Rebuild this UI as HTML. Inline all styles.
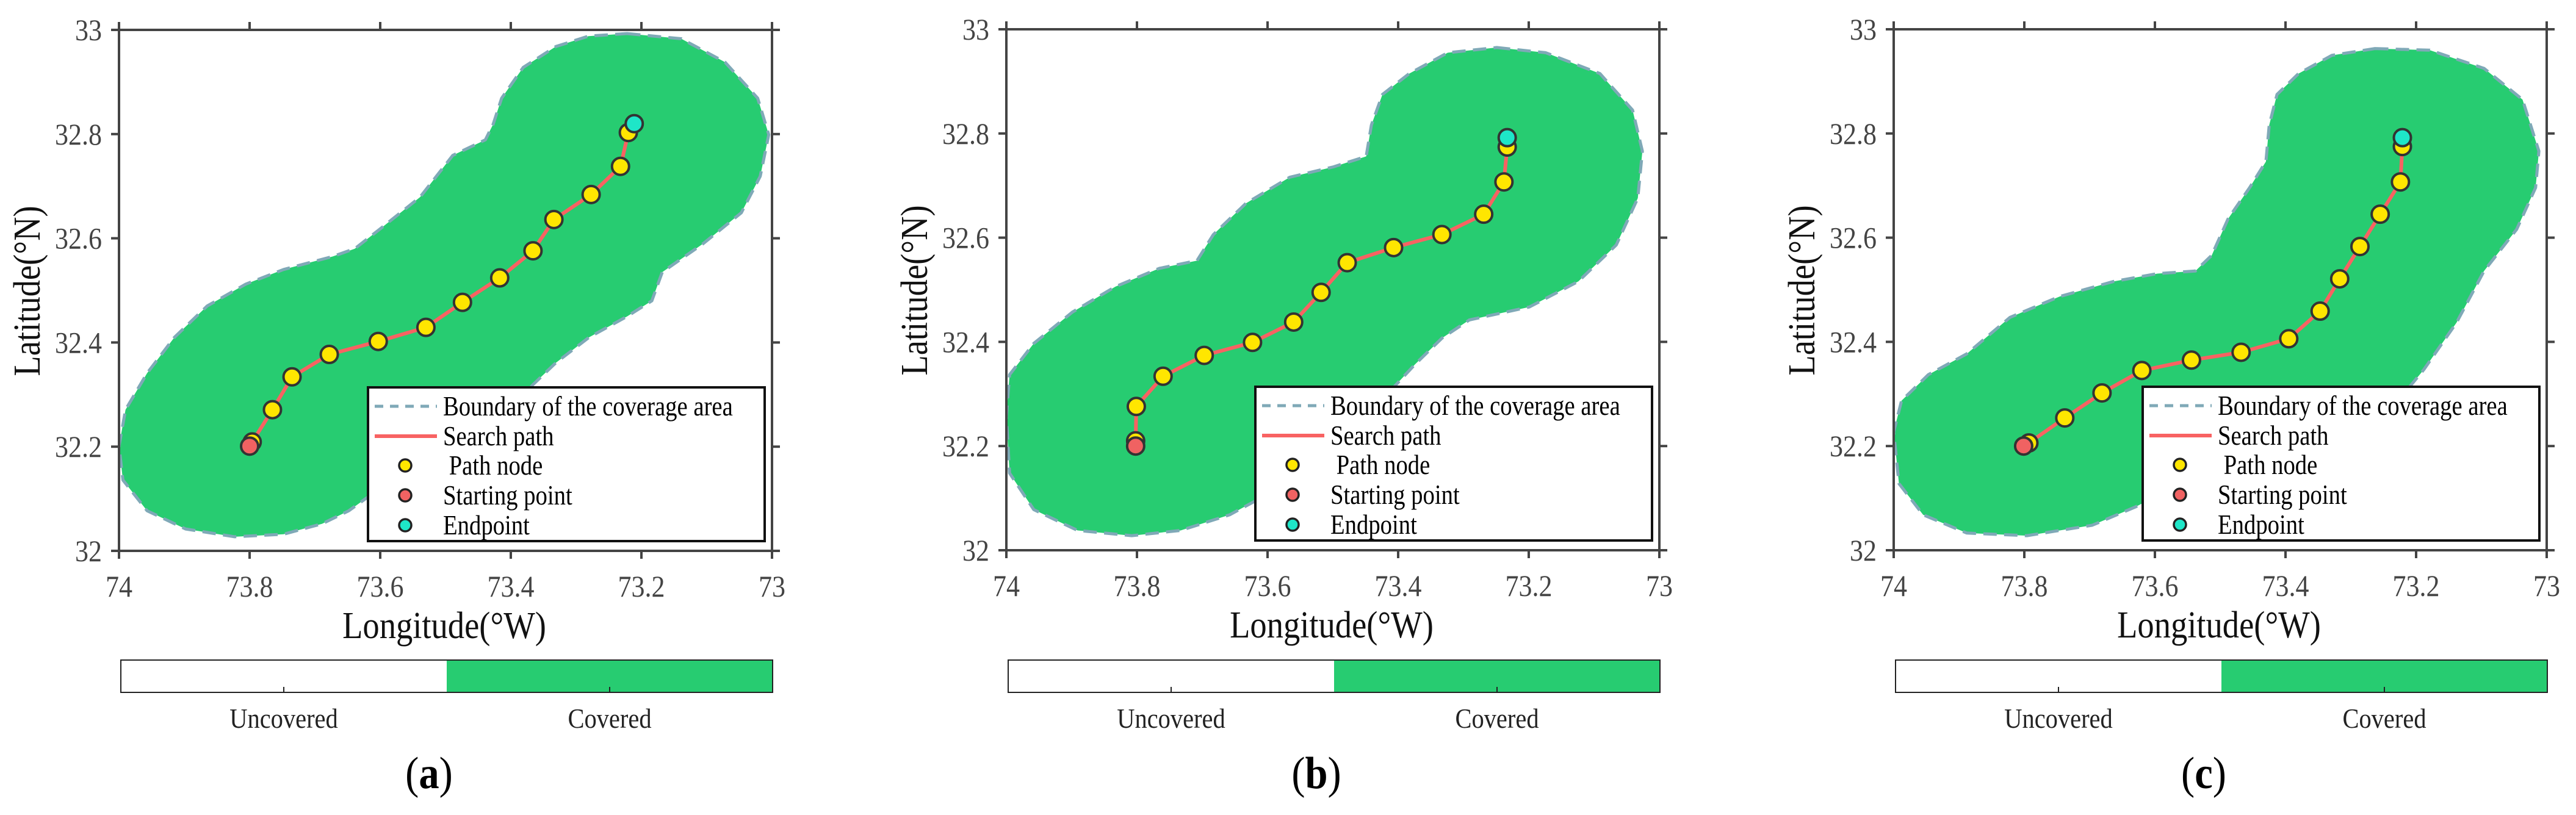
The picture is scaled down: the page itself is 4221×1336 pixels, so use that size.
<!DOCTYPE html>
<html><head><meta charset="utf-8">
<style>
html,body{margin:0;padding:0;background:#fff;}
svg{display:block;}
</style></head>
<body>
<svg id="fig" width="4221" height="1336" viewBox="0 0 4221 1336" xmlns="http://www.w3.org/2000/svg"></svg>
<script>
// ---------- data ----------
const panelLabels = ['a','b','c'];
const xTicks = [74, 73.8, 73.6, 73.4, 73.2, 73];
const xTickLabels = ['74','73.8','73.6','73.4','73.2','73'];
const yTicks = [32, 32.2, 32.4, 32.6, 32.8, 33];
const yTickLabels = ['32','32.2','32.4','32.6','32.8','33'];
const legendLabels = ['Boundary of the coverage area','Search path',' Path node','Starting point','Endpoint'];
const colorbarLabels = ['Uncovered','Covered'];

const pathLonA = [73.800,73.796,73.765,73.735,73.678,73.603,73.530,73.474,73.417,73.366,73.334,73.277,73.232,73.220,73.211];
const pathLatA = [32.201,32.209,32.271,32.334,32.377,32.402,32.429,32.477,32.524,32.576,32.636,32.684,32.738,32.803,32.820];
const pathLonB = [73.802,73.802,73.801,73.760,73.697,73.623,73.560,73.518,73.478,73.407,73.333,73.269,73.238,73.233,73.233];
const pathLatB = [32.200,32.210,32.276,32.334,32.374,32.399,32.438,32.495,32.552,32.581,32.606,32.645,32.707,32.774,32.792];
const pathLonC = [73.801,73.793,73.738,73.681,73.620,73.544,73.468,73.395,73.347,73.317,73.286,73.255,73.224,73.221,73.221];
const pathLatC = [32.200,32.206,32.254,32.302,32.345,32.365,32.380,32.406,32.459,32.521,32.583,32.645,32.707,32.775,32.792];

const areaLonA = [73.222,73.139,73.072,73.022,73.005,73.018,73.047,73.105,73.168,73.184,73.222,73.280,73.331,73.381,73.447,73.531,73.598,73.648,73.689,73.748,73.823,73.898,73.957,73.994,74.0,73.990,73.957,73.915,73.865,73.806,73.748,73.673,73.639,73.598,73.539,73.489,73.439,73.427,73.414,73.381,73.331,73.281];
const areaLatA = [32.993,32.983,32.938,32.869,32.799,32.719,32.649,32.590,32.535,32.480,32.450,32.410,32.361,32.301,32.221,32.161,32.122,32.077,32.052,32.032,32.027,32.042,32.077,32.136,32.201,32.271,32.341,32.410,32.470,32.512,32.540,32.565,32.580,32.620,32.679,32.759,32.789,32.819,32.869,32.928,32.968,32.988];
const areaLonB = [73.249,73.174,73.091,73.041,73.026,73.033,73.066,73.124,73.199,73.291,73.333,73.374,73.441,73.524,73.599,73.658,73.733,73.808,73.891,73.958,73.995,74.0,73.995,73.958,73.899,73.833,73.766,73.708,73.683,73.633,73.566,73.499,73.449,73.441,73.424,73.383,73.324];
const areaLatB = [32.965,32.955,32.915,32.845,32.766,32.676,32.586,32.516,32.467,32.442,32.407,32.357,32.267,32.187,32.108,32.068,32.038,32.028,32.038,32.078,32.148,32.257,32.337,32.397,32.457,32.506,32.541,32.556,32.606,32.666,32.716,32.736,32.756,32.816,32.875,32.915,32.955];
const areaLonC = [73.263,73.179,73.096,73.037,73.012,73.017,73.046,73.096,73.138,73.188,73.221,73.430,73.546,73.630,73.696,73.796,73.888,73.955,73.992,74.0,73.988,73.947,73.888,73.822,73.746,73.663,73.596,73.538,73.513,73.488,73.455,73.430,73.425,73.413,73.380,73.329];
const areaLatC = [32.963,32.960,32.925,32.865,32.766,32.696,32.616,32.536,32.437,32.347,32.297,32.207,32.138,32.083,32.048,32.028,32.033,32.068,32.128,32.227,32.287,32.337,32.377,32.447,32.487,32.516,32.531,32.536,32.566,32.636,32.696,32.746,32.816,32.875,32.915,32.950];

const panels = [
  {x0:195, top:49, pathLon:pathLonA, pathLat:pathLatA, areaLon:areaLonA, areaLat:areaLatA},
  {x0:1649, top:48, pathLon:pathLonB, pathLat:pathLatB, areaLon:areaLonB, areaLat:areaLatB},
  {x0:3103, top:48, pathLon:pathLonC, pathLat:pathLatC, areaLon:areaLonC, areaLat:areaLatC}
];

// ---------- drawing ----------
const NS='http://www.w3.org/2000/svg';
const svg=document.getElementById('fig');
const FONT='"Liberation Serif", "Times New Roman", serif';
function mk(tag, attrs, parent){
  const e=document.createElementNS(NS,tag);
  for(const k in attrs) e.setAttribute(k, attrs[k]);
  (parent||svg).appendChild(e);
  return e;
}
// text with horizontal compression (reference text is condensed)
function txt(parent, x, y, size, anchor, fill, sx, rot){
  let tr='translate('+x+' '+y+')';
  if(rot) tr+=' rotate('+rot+')';
  tr+=' scale('+sx+' 1)';
  const t=mk('text',{x:0,y:0,'font-size':size,'font-family':FONT,fill:fill,'text-anchor':anchor,transform:tr},parent);
  return t;
}
const W=1070, H=854;
const GREEN='#27cc71', AXC='#444', SX=0.88;

panels.forEach((p,pi)=>{
  const g=mk('g',{});
  
  
  const xs=lon=>p.x0+(74-lon)*W;
  const ys=lat=>p.top+(33-lat)*H;
  const cid='clip'+pi;
  const cp=mk('clipPath',{id:cid},g);
  mk('rect',{x:p.x0,y:p.top,width:W,height:H},cp);

  // coverage area
  let d='';
  p.areaLon.forEach((lon,i)=>{d+=(i?'L':'M')+xs(lon).toFixed(1)+','+ys(p.areaLat[i]).toFixed(1);});
  d+='Z';
  const area=mk('path',{d:d,fill:GREEN,stroke:'#7fa9b7','stroke-width':5,'stroke-dasharray':'22 12','clip-path':'url(#'+cid+')','stroke-linejoin':'round'},g);
  
  

  // axes box
  const box=mk('rect',{x:p.x0,y:p.top,width:W,height:H,fill:'none',stroke:AXC,'stroke-width':4},g);
  
  

  // ticks
  xTicks.forEach((t,i)=>{
    const x=xs(t);
    mk('line',{x1:x,y1:p.top+H,x2:x,y2:p.top+H+13,stroke:AXC,'stroke-width':4},g);
    mk('line',{x1:x,y1:p.top,x2:x,y2:p.top-13,stroke:AXC,'stroke-width':4},g);
    const tl=txt(g,x,p.top+H+75,50,'middle','#444',SX);
    tl.textContent=xTickLabels[i];
    
    
  });
  yTicks.forEach((t,i)=>{
    const y=ys(t);
    mk('line',{x1:p.x0,y1:y,x2:p.x0-13,y2:y,stroke:AXC,'stroke-width':4},g);
    mk('line',{x1:p.x0+W,y1:y,x2:p.x0+W+13,y2:y,stroke:AXC,'stroke-width':4},g);
    const tl=txt(g,p.x0-28,y+17,50,'end','#444',SX);
    tl.textContent=yTickLabels[i];
    
    
  });

  // search path
  let pd='';
  p.pathLon.forEach((lon,i)=>{pd+=(i?'L':'M')+xs(lon).toFixed(1)+','+ys(p.pathLat[i]).toFixed(1);});
  const sp=mk('path',{d:pd,fill:'none',stroke:'#f86262','stroke-width':6,'stroke-linejoin':'round'},g);
  
  
  const n=p.pathLon.length;
  for(let i=1;i<n-1;i++){
    const c=mk('circle',{cx:xs(p.pathLon[i]),cy:ys(p.pathLat[i]),r:14,fill:'#ffe600',stroke:'#333','stroke-width':4},g);
    
    
  }
  const s=mk('circle',{cx:xs(p.pathLon[0]),cy:ys(p.pathLat[0]),r:14,fill:'#f06262',stroke:'#333','stroke-width':4},g);
  
  
  const e=mk('circle',{cx:xs(p.pathLon[n-1]),cy:ys(p.pathLat[n-1]),r:14,fill:'#1ee6c8',stroke:'#333','stroke-width':4},g);
  
  

  // legend
  const lg=mk('g',{},g);
  
  
  const lx=p.x0+408, ly=p.top+586;
  mk('rect',{x:lx,y:ly,width:650,height:252,fill:'#fff',stroke:'#111','stroke-width':4},lg);
  const rows=[31,80,128,177,226];
  mk('line',{x1:lx+11,y1:ly+rows[0],x2:lx+113,y2:ly+rows[0],stroke:'#7fa9b7','stroke-width':5,'stroke-dasharray':'14 11'},lg);
  mk('line',{x1:lx+11,y1:ly+rows[1],x2:lx+113,y2:ly+rows[1],stroke:'#f86262','stroke-width':6},lg);
  [['#ffe600',2],['#f06262',3],['#1ee6c8',4]].forEach(m=>{
    mk('circle',{cx:lx+61,cy:ly+rows[m[1]],r:10,fill:m[0],stroke:'#222','stroke-width':3.5},lg);
  });
  legendLabels.forEach((t,i)=>{
    const tx=txt(lg,lx+123,ly+rows[i]+15,45,'start','#000',0.86);
    tx.setAttribute('xml:space','preserve');
    tx.style.whiteSpace='pre';
    tx.textContent=t;
    
    
  });

  // axis titles
  const xt=txt(g,p.x0+533,p.top+H+143,62,'middle','#111',SX);
  xt.textContent='Longitude(°W)';
  
  
  const yt=txt(g,p.x0-130,p.top+428,62,'middle','#111',SX,-90);
  yt.textContent='Latitude(°N)';
  
  

  // colorbar
  const cb=mk('g',{},g);
  
  
  const cx0=p.x0+3, cw=1068, cy0=1082, ch=53;
  mk('rect',{x:cx0+cw/2,y:cy0,width:cw/2,height:ch,fill:GREEN},cb);
  mk('rect',{x:cx0,y:cy0,width:cw,height:ch,fill:'none',stroke:'#222','stroke-width':2},cb);
  colorbarLabels.forEach((t,i)=>{
    const tx0=cx0+cw*(i*2+1)/4;
    mk('line',{x1:tx0,y1:cy0+ch,x2:tx0,y2:cy0+ch-9,stroke:'#222','stroke-width':2},cb);
    const tx=txt(cb,tx0,1193,46,'middle','#222',SX);
    tx.textContent=t;
    
    
  });

  // panel label
  const pl=txt(g,p.x0+508,1292,74,'middle','#000',0.9);
  
  
  const t1=mk('tspan',{},pl); t1.textContent='(';
  const t2=mk('tspan',{'font-weight':'bold'},pl); t2.textContent=panelLabels[pi];
  const t3=mk('tspan',{},pl); t3.textContent=')';
});
</script>
</body></html>
